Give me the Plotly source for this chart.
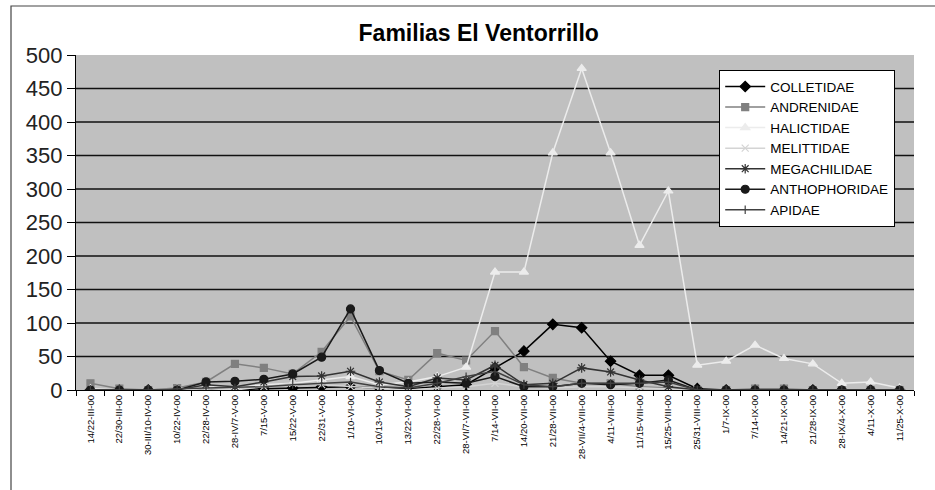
import plotly.graph_objects as go

categories = [
    "14/22-III-00", "22/30-III-00", "30-III/10-IV-00", "10/22-IV-00", "22/28-IV-00",
    "28-IV/7-V-00", "7/15-V-00", "15/22-V-00", "22/31-V-00", "1/10-VI-00",
    "10/13-VI-00", "13/22-VI-00", "22/28-VI-00", "28-VI/7-VII-00", "7/14-VII-00",
    "14/20-VII-00", "21/28-VII-00", "28-VII/4-VIII-00", "4/11-VIII-00", "11/15-VIII-00",
    "15/25-VIII-00", "25/31-VIII-00", "1/7-IX-00", "7/14-IX-00", "14/21-IX-00",
    "21/28-IX-00", "28-IX/4-X-00", "4/11-X-00", "11/25-X-00",
]

colletidae = [0, 0, 0, 0, 0, 0, 2, 3, 5, 5, 3, 2, 5, 8, 33, 58, 98, 93, 43, 22, 22, 2, 0, 0, 0, 0, 0, 0, 0]
andrenidae = [10, 2, 0, 3, 12, 39, 33, 24, 57, 110, 28, 15, 55, 44, 88, 34, 18, 10, 10, 5, 3, 0, 0, 2, 2, 0, 0, 0, 0]
halictidae = [2, 0, 0, 2, 5, 3, 8, 10, 15, 20, 8, 12, 20, 34, 176, 176, 354, 480, 354, 216, 297, 37, 43, 67, 47, 39, 10, 12, 3]
melittidae = [0, 0, 0, 0, 2, 0, 5, 10, 8, 5, 3, 0, 3, 5, 10, 5, 3, 5, 5, 3, 2, 0, 0, 0, 0, 0, 0, 0, 0]
megachilidae = [0, 0, 0, 0, 8, 5, 12, 20, 21, 28, 12, 5, 18, 15, 37, 8, 10, 33, 27, 15, 5, 0, 0, 0, 0, 0, 0, 0, 0]
anthophoridae = [0, 0, 0, 0, 12, 13, 16, 24, 49, 121, 29, 10, 12, 10, 20, 5, 5, 10, 8, 10, 15, 0, 0, 0, 0, 0, 0, 0, 0]
apidae = [0, 0, 0, 2, 3, 3, 5, 8, 10, 12, 5, 3, 10, 20, 28, 8, 5, 10, 10, 10, 12, 0, 0, 0, 0, 0, 0, 0, 0]

y_ticks = [0, 50, 100, 150, 200, 250, 300, 350, 400, 450, 500]

series = [
    ("COLLETIDAE", colletidae, "#000000", "diamond", 8),
    ("ANDRENIDAE", andrenidae, "#808080", "square", 7),
    ("HALICTIDAE", halictidae, "#ececec", "triangle-up", 8),
    ("MELITTIDAE", melittidae, "#d4d4d4", "x-thin-open", 7),
    ("MEGACHILIDAE", megachilidae, "#333333", "asterisk-open", 8),
    ("ANTHOPHORIDAE", anthophoridae, "#1a1a1a", "circle", 8),
    ("APIDAE", apidae, "#404040", "line-ns-open", 6),
]

fig = go.Figure()
for name, vals, color, sym, size in series:
    fig.add_trace(go.Scatter(
        x=categories, y=vals, name=name, mode="lines+markers",
        line=dict(color=color, width=1.5),
        marker=dict(symbol=sym, size=size, color=color,
                    line=dict(color=color, width=1.2)),
    ))

# horizontal gridlines (Excel style, none at the top edge)
for v in y_ticks[1:-1]:
    fig.add_shape(type="line", xref="paper", yref="y", x0=0, x1=1, y0=v, y1=v,
                  line=dict(color="#111111", width=1.6), layer="below")

# outer chart border
fig.add_shape(type="rect", xref="paper", yref="paper",
              x0=(11 - 76) / 838, x1=(960 - 76) / 838,
              y0=(390 - 520) / 335, y1=(390 - 6) / 335,
              line=dict(color="#444444", width=1.2), fillcolor="rgba(0,0,0,0)")

fig.update_layout(
    width=935, height=490,
    margin=dict(l=76, r=21, t=55, b=100),
    paper_bgcolor="white",
    plot_bgcolor="#c0c0c0",
    font=dict(family="Liberation Sans, Arial, sans-serif", color="#000000"),
    title=dict(text="<b>Familias El Ventorrillo</b>", x=0.512, xanchor="center",
               y=1 - 33 / 490, yanchor="middle", yref="container",
               font=dict(size=23, color="#000000")),
    showlegend=True,
    legend=dict(x=(719 - 76) / 838, y=(390 - 70) / 335, xanchor="left", yanchor="top",
                bgcolor="white", bordercolor="#000000", borderwidth=1.2,
                font=dict(size=13.5, color="#000000"), tracegroupgap=0,
                itemwidth=40),
)

fig.update_xaxes(
    type="category", tickangle=-90, tickfont=dict(size=9.5, color="#000000"),
    showgrid=False, showline=True, linecolor="#000000", linewidth=1.2,
    ticks="outside", tickson="boundaries", ticklen=5, tickcolor="#000000",
    range=[-0.5, len(categories) - 0.5],
)
fig.update_yaxes(
    range=[0, 500], tickvals=y_ticks, tickfont=dict(size=22, color="#222222"),
    showgrid=False, zeroline=False, showline=True, linecolor="#000000", linewidth=1.2,
    ticks="outside", ticklen=8, tickcolor="#000000",
)

fig.write_html("out.html",
               config={"displayModeBar": False},
               post_script="document.body.style.margin='0';document.body.style.overflow='hidden';")
